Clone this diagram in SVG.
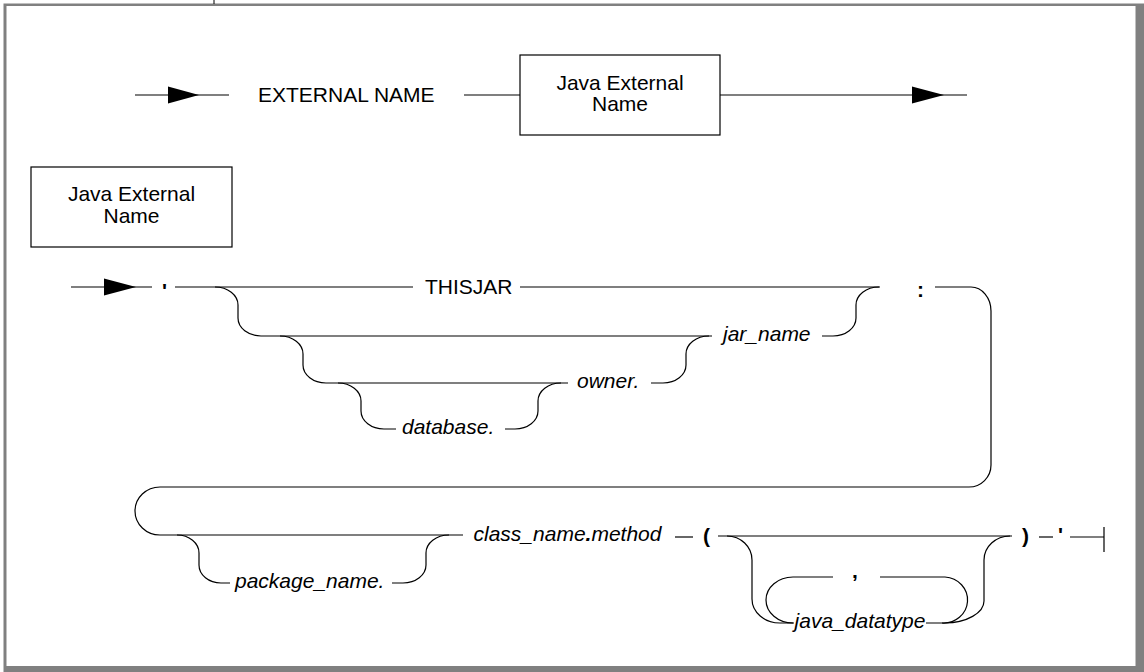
<svg xmlns="http://www.w3.org/2000/svg" width="1144" height="672" viewBox="0 0 1144 672">
<defs>
<style>
.ln{fill:none;stroke:#000;stroke-width:1.2}
.box{fill:#fff;stroke:#000;stroke-width:1.2}
.t{font-family:"Liberation Sans",Arial,Helvetica,sans-serif;font-size:21px;fill:#000}
.i{font-style:italic}
.b{font-weight:bold}
.ah{fill:#000}
</style>
</defs>
<rect x="3.5" y="3.5" width="1140.5" height="668.5" fill="#808080"/>
<rect x="6.5" y="6" width="1129" height="660" fill="#fff"/>
<line x1="214" y1="0" x2="214" y2="4" stroke="#000" stroke-width="1"/>

<g id="connectors">
<!-- row 1 -->
<path class="ln" d="M135,95 H229"/>
<polygon class="ah" points="168,86.5 199,95 168,103.5"/>
<path class="ln" d="M464,95 H520"/>
<path class="ln" d="M720,95 H967"/>
<polygon class="ah" points="912,86.5 944,95 912,103.5"/>
<!-- row 2 -->
<path class="ln" d="M71,287 H152"/>
<polygon class="ah" points="104,278.5 136,287 104,295.5"/>
<path class="ln" d="M175,287 H413"/>
<path class="ln" d="M520,287 H880"/>
<path class="ln" d="M935,287 H971 A20,24 0 0 1 991,311 V465 A22,22 0 0 1 969,487 H160 A25,24 0 0 0 160,535 H463"/>
<path class="ln" d="M215,287 A23,18 0 0 1 238,305 V318 A23,18 0 0 0 261,336 H712"/>
<path class="ln" d="M822,336 H833 A23,18 0 0 0 856,318 V305 A23,18 0 0 1 879,287"/>
<path class="ln" d="M280,336 A23,18 0 0 1 303,354 V365 A23,18 0 0 0 326,383 H568"/>
<path class="ln" d="M651,383 H663 A23,18 0 0 0 686,365 V354 A23,18 0 0 1 709,336"/>
<path class="ln" d="M338,383 A23,18 0 0 1 361,401 V411 A23,18 0 0 0 384,429 H396"/>
<path class="ln" d="M505,429 H515 A23,18 0 0 0 538,411 V401 A23,18 0 0 1 561,383"/>
<!-- row 3 -->
<path class="ln" d="M177,535 A22,18 0 0 1 199,553 V565 A22,18 0 0 0 221,583 H230"/>
<path class="ln" d="M392,583 H403 A23,18 0 0 0 426,565 V553 A23,18 0 0 1 449,535"/>
<path class="ln" d="M675,537 H693"/>
<path class="ln" d="M718,536 H1012"/>
<path class="ln" d="M727,536 A25,24 0 0 1 752,560 V599 A28,24 0 0 0 780,623 H794"/>
<path class="ln" d="M926,623 H945 A40,22 0 0 0 984,601 V560 A26,24 0 0 1 1010,536"/>
<path class="ln" d="M833,577 H793 A27,23 0 0 0 793,623"/>
<path class="ln" d="M942,623 A24,23 0 0 0 945,577 H880"/>
<path class="ln" d="M1039,537 H1053"/>
<path class="ln" d="M1070,537 H1104 M1104,527 V552"/>
</g>

<g id="n-external-name"><text class="t" x="258" y="102">EXTERNAL NAME</text></g>
<g id="n-java-ext-ref">
<rect class="box" x="520" y="55" width="200" height="80"/>
<text class="t" x="620" y="90" text-anchor="middle">Java External</text>
<text class="t" x="620" y="111" text-anchor="middle">Name</text>
</g>
<g id="n-java-ext-def">
<rect class="box" x="31" y="167" width="201" height="80"/>
<text class="t" x="131.5" y="201" text-anchor="middle">Java External</text>
<text class="t" x="131.5" y="222.5" text-anchor="middle">Name</text>
</g>
<g id="n-quote1"><text class="t b" x="162" y="298">'</text></g>
<g id="n-thisjar"><text class="t" x="425" y="294">THISJAR</text></g>
<g id="n-colon"><text class="t b" x="917" y="297" font-size="25">:</text></g>
<g id="n-jar-name"><text class="t i" x="723" y="341">jar_name</text></g>
<g id="n-owner"><text class="t i" x="577" y="388">owner.</text></g>
<g id="n-database"><text class="t i" x="402" y="434">database.</text></g>
<g id="n-package"><text class="t i" x="235" y="588">package_name.</text></g>
<g id="n-class-method"><text class="t i" x="567.5" y="541" text-anchor="middle" font-size="20.5">class_name<tspan class="b">.</tspan>method</text></g>
<g id="n-lparen"><text class="t b" x="703" y="543" font-size="22">(</text></g>
<g id="n-rparen"><text class="t b" x="1022" y="543" font-size="22">)</text></g>
<g id="n-comma"><text class="t b" x="852" y="578" font-size="25">,</text></g>
<g id="n-java-datatype"><text class="t i" x="860" y="628" text-anchor="middle" font-size="20">java_datatype</text></g>
<g id="n-quote2"><text class="t b" x="1058" y="542">'</text></g>
</svg>
